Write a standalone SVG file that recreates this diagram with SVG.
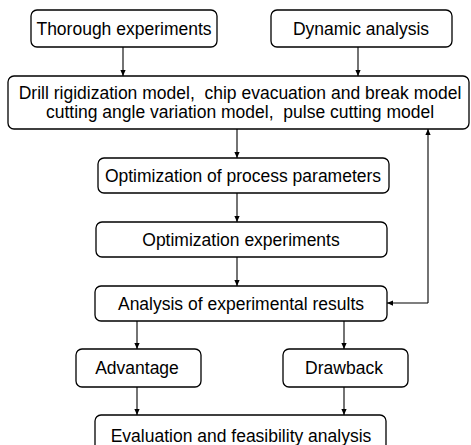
<svg xmlns="http://www.w3.org/2000/svg" width="471" height="445" viewBox="0 0 471 445">
<style>
.box{fill:#fff;stroke:#000;stroke-width:1.3}
.t{font-family:"Liberation Sans",Arial,sans-serif;font-size:17.5px;fill:#000;text-anchor:middle;white-space:pre}
.c{fill:none;stroke:#000;stroke-width:1.1;marker-end:url(#ah)}
</style>
<defs>
<marker id="ah" viewBox="0 0 8 8" refX="8" refY="4" markerWidth="6" markerHeight="6" markerUnits="userSpaceOnUse" orient="auto">
<path d="M0,0.5 L8,4 L0,7.5 Z" fill="#000"/>
</marker>
</defs>
<rect width="471" height="445" fill="#fff"/>
<g id="connectors">
<line class="c" x1="123" y1="47" x2="123" y2="76"/>
<line class="c" x1="358" y1="47" x2="358" y2="76"/>
<line class="c" x1="237" y1="129" x2="237" y2="158"/>
<line class="c" x1="237" y1="193" x2="237" y2="222"/>
<line class="c" x1="237" y1="257" x2="237" y2="286"/>
<polyline class="c" points="428,303 428,129"/>
<polyline class="c" points="428,303 387,303"/>
<line class="c" x1="137" y1="321" x2="137" y2="349"/>
<line class="c" x1="344" y1="321" x2="344" y2="349"/>
<line class="c" x1="137" y1="387" x2="137" y2="415"/>
<line class="c" x1="344" y1="387" x2="344" y2="415"/>
</g>
<g id="thorough">
<rect class="box" x="31" y="10" width="186" height="37" rx="6"/>
<text class="t" x="124" y="35">Thorough experiments</text>
</g>
<g id="dynamic">
<rect class="box" x="271" y="10" width="181" height="37" rx="6"/>
<text class="t" x="361" y="35">Dynamic analysis</text>
</g>
<g id="models">
<rect class="box" x="8" y="76" width="461" height="53" rx="6"/>
<text class="t" x="240" y="99">Drill rigidization model,  chip evacuation and break model</text>
<text class="t" x="240" y="118">cutting angle variation model,  pulse cutting model</text>
</g>
<g id="optparams">
<rect class="box" x="98" y="158" width="291" height="35" rx="6"/>
<text class="t" x="243" y="182">Optimization of process parameters</text>
</g>
<g id="optexp">
<rect class="box" x="96" y="222" width="291" height="35" rx="6"/>
<text class="t" x="241" y="246">Optimization experiments</text>
</g>
<g id="analysis">
<rect class="box" x="95" y="286" width="292" height="35" rx="6"/>
<text class="t" x="241" y="310">Analysis of experimental results</text>
</g>
<g id="advantage">
<rect class="box" x="76" y="349" width="125" height="38" rx="6"/>
<text class="t" x="137" y="374">Advantage</text>
</g>
<g id="drawback">
<rect class="box" x="283" y="349" width="125" height="38" rx="6"/>
<text class="t" x="344" y="374">Drawback</text>
</g>
<g id="evaluation">
<rect class="box" x="95" y="415" width="291" height="38" rx="6"/>
<text class="t" x="241" y="442">Evaluation and feasibility analysis</text>
</g>
</svg>
